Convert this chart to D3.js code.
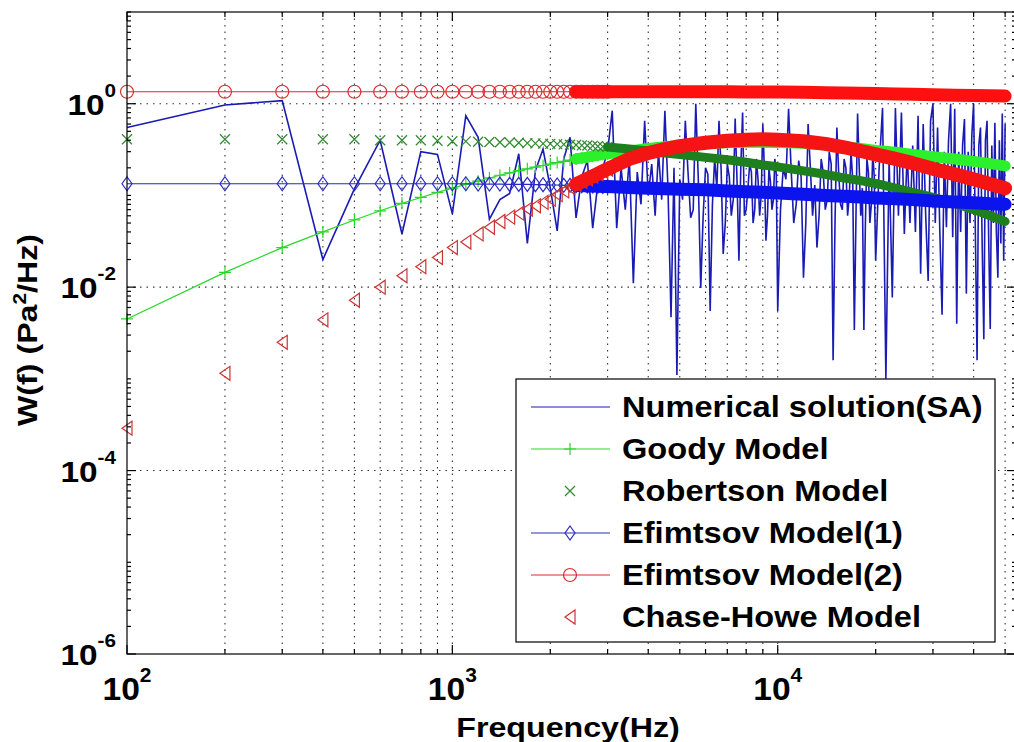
<!DOCTYPE html>
<html><head><meta charset="utf-8">
<script src="https://cdn.jsdelivr.net/npm/d3@7/dist/d3.min.js"></script>
<style>body{margin:0;background:#fff}svg{display:block}</style>
</head><body>
<svg id="chart" width="1014" height="742"></svg>
<script>
// ---------------- data ----------------
const modelFreq = [100,200,300,400,500,600,700,800,900,1000,
  1100,1200,1300,1400,1500,1600,1700,1800,1900,2000,
  2100,2200,2300,2400,2500,2600,2700,2800,2900,3000,
  3500,4000,4500,5000,6000,7000,8000,9000,10000,
  12000,14000,16000,18000,20000,23000,26000,30000,35000,40000,45000,50000];

const goodyVals = [0.0045,0.0145,0.027,0.040,0.054,0.068,0.082,0.095,0.108,0.12,
  0.132,0.143,0.155,0.166,0.176,0.186,0.195,0.204,0.212,0.22,
  0.228,0.235,0.243,0.25,0.256,0.262,0.268,0.274,0.28,0.285,
  0.305,0.325,0.34,0.35,0.365,0.375,0.38,0.38,0.378,
  0.37,0.355,0.34,0.325,0.31,0.295,0.28,0.265,0.25,0.235,0.222,0.21];

const robertsonVals = [0.41,0.41,0.41,0.41,0.41,0.40,0.40,0.40,0.395,0.39,
  0.388,0.385,0.382,0.38,0.378,0.375,0.372,0.37,0.367,0.365,
  0.362,0.36,0.357,0.355,0.352,0.35,0.347,0.344,0.341,0.338,
  0.32,0.305,0.29,0.28,0.26,0.245,0.23,0.215,0.205,
  0.185,0.17,0.155,0.145,0.135,0.12,0.108,0.095,0.082,0.07,0.06,0.052];

const efimtsov1Vals = [0.134,0.134,0.134,0.134,0.134,0.134,0.134,0.134,0.134,0.134,
  0.134,0.133,0.133,0.133,0.132,0.132,0.132,0.131,0.131,0.13,
  0.13,0.129,0.129,0.128,0.128,0.127,0.127,0.126,0.125,0.125,
  0.122,0.12,0.118,0.117,0.115,0.112,0.11,0.108,0.106,
  0.103,0.1,0.098,0.096,0.094,0.092,0.09,0.087,0.085,0.083,0.081,0.08];

const efimtsov2Vals = [1.35,1.35,1.35,1.35,1.35,1.35,1.35,1.35,1.35,1.35,
  1.35,1.35,1.35,1.35,1.35,1.35,1.35,1.35,1.35,1.35,
  1.35,1.35,1.35,1.35,1.35,1.35,1.35,1.35,1.35,1.35,
  1.35,1.35,1.35,1.35,1.35,1.35,1.34,1.34,1.34,
  1.33,1.32,1.31,1.3,1.29,1.28,1.27,1.25,1.24,1.23,1.22,1.21];

const chaseHoweVals = [0.00029,0.00115,0.0025,0.0044,0.0072,0.0100,0.0133,0.0167,0.021,0.027,
  0.031,0.038,0.045,0.052,0.058,0.064,0.071,0.077,0.084,0.091,
  0.102,0.112,0.122,0.132,0.142,0.152,0.162,0.172,0.183,0.194,
  0.25,0.29,0.32,0.345,0.375,0.395,0.405,0.41,0.405,
  0.39,0.365,0.335,0.305,0.28,0.25,0.225,0.195,0.17,0.15,0.133,0.12];

const numFreq = [100,200,300,400,500,600,700,800,900,1000,
  1100,1200,1300,1400,1500,1600,1700,1800,1900,2000,
  2100,2200,2300,2400,2500,2600,2700,2800,2900,3000,
  3100,3200,3300,3400,3500,3600,3700,3800,3900,4000,
  4100,4200,4300,4400,4500,4600,4700,4800,4900,5000,
  5100,5200,5300,5400,5500,5600,5700,5800,5900,6000,
  6100,6200,6300,6400,6500,6600,6700,6800,6900,7000,
  7100,7200,7300,7400,7500,7600,7700,7800,7900,8000,
  8100,8200,8300,8400,8500,8600,8700,8800,8900,9000,
  9100,9200,9300,9400,9500,9600,9700,9800,9900,10000,
  10200,10400,10600,10800,11000,11200,11400,11600,11800,12000,
  12200,12400,12600,12800,13000,13200,13400,13600,13800,14000,
  14200,14400,14600,14800,15000,15200,15400,15600,15800,16000,
  16200,16400,16600,16800,17000,17200,17400,17600,17800,18000,
  18200,18400,18600,18800,19000,19200,19400,19600,19800,20000,
  20500,21000,21500,22000,22500,23000,23500,24000,24500,25000,
  25500,26000,26500,27000,27500,28000,28500,29000,29500,30000,
  30500,31000,31500,32000,32500,33000,33500,34000,34500,35000,
  35500,36000,36500,37000,37500,38000,38500,39000,39500,40000,
  40500,41000,41500,42000,42500,43000,43500,44000,44500,45000,
  45500,46000,46500,47000,47500,48000,48500,49000,49500,50000];

const numVal = [0.55,0.97,1.08,0.020,0.118,0.40,0.038,0.30,0.28,0.063,
  0.74,0.43,0.055,0.09,0.105,0.285,0.030,0.186,0.32,0.12,
  0.041,0.25,0.43,0.057,0.16,0.24,0.044,0.134,0.2,0.3,
  0.84,0.044,0.20,0.07,0.25,0.011,0.18,0.08,0.65,0.10,
  0.22,0.06,0.30,0.09,0.84,0.12,0.0047,0.20,0.0011,0.15,
  0.09,0.65,0.18,0.057,0.07,1.0,0.15,0.0098,0.06,0.2,
  0.17,0.0055,0.08,0.25,0.12,0.65,0.19,0.023,0.05,0.22,
  0.16,0.06,0.09,0.69,0.14,0.0194,0.2,0.8,0.06,0.07,
  0.12,0.22,0.18,0.05,0.07,0.25,0.15,0.06,0.1,0.6,
  0.19,0.032,0.06,0.2,0.14,0.07,0.09,0.25,0.17,0.0055,
  0.07,0.2,0.15,0.88,0.19,0.05,0.08,0.24,0.16,0.0127,
  0.05,0.6,0.2,0.06,0.13,0.027,0.06,0.25,0.18,0.07,
  0.09,0.3,0.22,0.0016,0.05,0.55,0.17,0.08,0.07,0.25,
  0.2,0.06,0.1,0.3,0.15,0.0034,0.06,0.78,0.21,0.06,
  0.12,0.0034,0.05,0.25,0.18,0.05,0.08,0.3,0.16,0.0194,
  0.2,0.9,0.001,0.25,0.0077,0.9,0.06,0.8,0.038,0.3,
  0.05,0.35,0.04,0.74,0.014,0.6,0.06,0.0117,0.65,1.0,
  0.05,0.55,0.04,0.005,0.3,0.045,0.4,1.0,0.035,0.88,
  0.004,0.3,0.04,0.35,0.68,0.0085,0.3,0.05,0.45,1.0,
  0.04,0.0016,0.35,0.55,0.03,0.0027,0.4,0.65,0.035,0.0035,
  0.35,0.05,0.62,0.04,0.0127,0.4,0.03,0.78,0.0194,0.6];

const xTickVals = [100, 1000, 10000];
const xTickExp = ["2", "3", "4"];
const yTickVals = [1e-6, 1e-4, 1e-2, 1];
const yTickExp = ["-6", "-4", "-2", "0"];
const legendLabels = ["Numerical solution(SA)", "Goody Model", "Robertson Model",
  "Efimtsov Model(1)", "Efimtsov Model(2)", "Chase-Howe Model"];
const xLabel = "Frequency(Hz)";

// ---------------- layout ----------------
const L = 127, R = 1016, T = 12, B = 654;
const FONT = "'Liberation Sans', Arial, Helvetica, sans-serif";
const svg = d3.select("#chart");
const x = d3.scaleLog().domain([100, 54000]).range([L, R]);
const y = d3.scaleLog().domain([1e-6, 10]).range([B, T]);

const C = {
  num: "#1a1ab4", goody: "#28d828", goodyBand: "#2cf02c",
  rob: "#2f8a2f", robBand: "#1d7f1d",
  ef1: "#2a2ac4", ef1Band: "#0c14ee",
  ef2: "#dd2a2a", ef2Band: "#ff1010",
  ch: "#cc3333", chBand: "#f41414"
};

// grid
const xt = x.ticks();
const yt = y.ticks();
const grid = svg.append("g").attr("stroke", "#333").attr("stroke-width", 1.1)
  .attr("stroke-dasharray", "1.5,5");
grid.selectAll("line.v").data(xt.filter(d => d > 100)).join("line")
  .attr("x1", d => x(d)).attr("x2", d => x(d)).attr("y1", T).attr("y2", B);
grid.selectAll("line.h").data(yTickVals.filter(d => d > 1e-6)).join("line")
  .attr("x1", L).attr("x2", R).attr("y1", d => y(d)).attr("y2", d => y(d));

// series helpers
const pts = (fs, vs) => fs.map((f, i) => ({ f, v: vs[i] }));
const line = d3.line().x(d => x(d.f)).y(d => y(d.v));
const plot = svg.append("g");

const markerPath = {
  plus: "M-6,0H6M0,-6V6",
  x: "M-5,-5L5,5M-5,5L5,-5",
  diamond: "M0,-7L5,0L0,7L-5,0Z",
  tri: "M-5,0L5,-7L5,7Z"
};
function drawMarker(g, type, cx, cy, color) {
  if (type === "circle") {
    g.append("circle").attr("cx", cx).attr("cy", cy).attr("r", 6.5)
      .attr("fill", "none").attr("stroke", color).attr("stroke-width", 1.2);
  } else {
    g.append("path").attr("d", markerPath[type]).attr("transform", `translate(${cx},${cy})`)
      .attr("fill", "none").attr("stroke", color).attr("stroke-width", 1.2);
  }
}

// numerical solution
plot.append("path").datum(pts(numFreq, numVal)).attr("d", line)
  .attr("fill", "none").attr("stroke", C.num).attr("stroke-width", 1.6).attr("stroke-linejoin", "miter");

function drawModel(vals, color, bandColor, marker, withLine, bandW, bandFrom) {
  const data = pts(modelFreq, vals);
  const g = plot.append("g");
  if (withLine) g.append("path").datum(data).attr("d", line).attr("fill", "none")
    .attr("stroke", color).attr("stroke-width", 1.2);
  data.filter(d => d.f <= 3000).forEach(d => drawMarker(g, marker, x(d.f), y(d.v), color));
  g.append("path").datum(data.filter(d => d.f >= bandFrom)).attr("d", line).attr("fill", "none")
    .attr("stroke", bandColor).attr("stroke-width", bandW).attr("stroke-linecap", "round")
    .attr("stroke-linejoin", "round");
}
drawModel(goodyVals, C.goody, C.goodyBand, "plus", true, 11, 2400);
drawModel(robertsonVals, C.rob, C.robBand, "x", false, 9, 3000);
drawModel(efimtsov1Vals, C.ef1, C.ef1Band, "diamond", true, 13, 2400);
drawModel(efimtsov2Vals, C.ef2, C.ef2Band, "circle", true, 13, 2400);
drawModel(chaseHoweVals, C.ch, C.chBand, "tri", false, 14, 2400);

// axes frame and ticks
const ax = svg.append("g").attr("stroke", "#000").attr("stroke-width", 1.2);
ax.append("rect").attr("x", L).attr("y", T).attr("width", R - L).attr("height", B - T).attr("fill", "none");
const isMajX = d => xTickVals.includes(d);
const isMajY = d => yTickVals.some(v => Math.abs(Math.log10(v) - Math.log10(d)) < 1e-9);
xt.forEach(d => {
  const len = isMajX(d) ? 9 : 5;
  ax.append("line").attr("x1", x(d)).attr("x2", x(d)).attr("y1", B).attr("y2", B - len);
  ax.append("line").attr("x1", x(d)).attr("x2", x(d)).attr("y1", T).attr("y2", T + len);
});
yt.forEach(d => {
  const len = isMajY(d) ? 9 : 4;
  ax.append("line").attr("x1", L).attr("x2", L + len).attr("y1", y(d)).attr("y2", y(d));
  ax.append("line").attr("x1", R).attr("x2", R - len).attr("y1", y(d)).attr("y2", y(d));
});

// tick labels
const tl = svg.append("g").attr("font-family", FONT).attr("font-weight", "bold").attr("fill", "#000");
xTickVals.forEach((v, i) => {
  const t = tl.append("text").attr("transform", `translate(${x(v)},700) scale(1.05,1)`)
    .attr("text-anchor", "middle").attr("font-size", 32);
  t.append("tspan").text("10");
  t.append("tspan").attr("dy", -18).attr("font-size", 20).text(xTickExp[i]);
});
yTickVals.forEach((v, i) => {
  const t = tl.append("text").attr("transform", `translate(116,${y(v) + 11}) scale(1.15,1)`)
    .attr("text-anchor", "end").attr("font-size", 29);
  t.append("tspan").text("10");
  t.append("tspan").attr("dy", -18).attr("font-size", 18).text(yTickExp[i]);
});

// axis titles
tl.append("text").attr("transform", "translate(568,737) scale(1.15,1)")
  .attr("text-anchor", "middle").attr("font-size", 28).text(xLabel);
const yl = tl.append("text").attr("transform", "translate(37,330) rotate(-90) scale(1.15,1)")
  .attr("text-anchor", "middle").attr("font-size", 28);
yl.append("tspan").text("W(f) (Pa");
yl.append("tspan").attr("dy", -11).attr("font-size", 18).text("2");
yl.append("tspan").attr("dy", 11).text("/Hz)");

// legend
const lg = svg.append("g");
lg.append("rect").attr("x", 516).attr("y", 379).attr("width", 479).attr("height", 263)
  .attr("fill", "#fff").attr("stroke", "#000").attr("stroke-width", 1.2);
const legendSpec = [
  { color: C.num, line: true, marker: null },
  { color: C.goody, line: true, marker: "plus" },
  { color: C.rob, line: false, marker: "x" },
  { color: C.ef1, line: true, marker: "diamond" },
  { color: C.ef2, line: true, marker: "circle" },
  { color: C.ch, line: false, marker: "tri" }
];
legendLabels.forEach((lab, i) => {
  const cy = 407 + i * 42;
  const s = legendSpec[i];
  if (s.line) lg.append("line").attr("x1", 531).attr("x2", 610).attr("y1", cy).attr("y2", cy)
    .attr("stroke", s.color).attr("stroke-width", 1.2);
  if (s.marker) drawMarker(lg, s.marker, 570, cy, s.color);
  lg.append("text").attr("transform", `translate(622,${cy + 10}) scale(1.125,1)`)
    .attr("font-family", FONT).attr("font-weight", "bold").attr("font-size", 29)
    .attr("fill", "#000").text(lab);
});
</script>
</body></html>
